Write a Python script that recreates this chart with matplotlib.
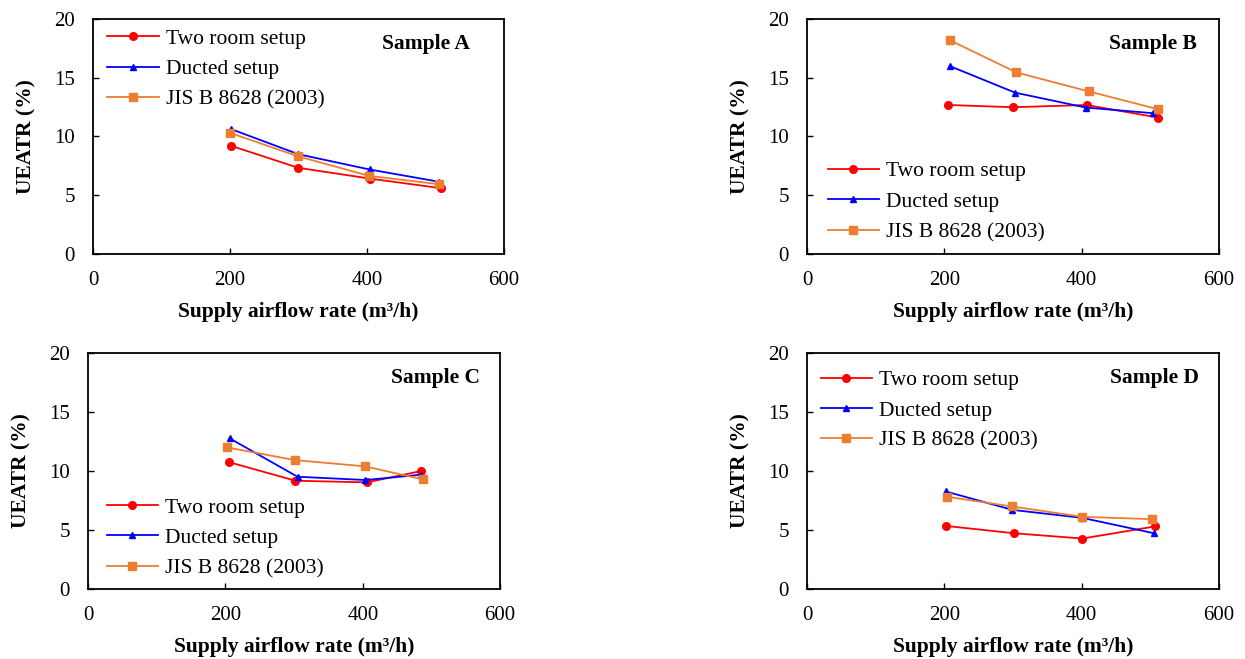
import matplotlib
matplotlib.use("Agg")
import matplotlib.pyplot as plt

plt.rcParams['font.family'] = ['Liberation Serif', 'DejaVu Serif']

series_names = ["Two room setup", "Ducted setup", "JIS B 8628 (2003)"]
series_colors = ["#FF0000", "#0000FF", "#ED7D31"]
series_markers = ["o", "^", "s"]

# Sample A
a_two_x = [202, 300, 404, 508]
a_two_y = [9.2, 7.33, 6.42, 5.6]
a_duct_x = [202, 300, 404, 506]
a_duct_y = [10.62, 8.49, 7.19, 6.14]
a_jis_x = [200, 299, 403, 505]
a_jis_y = [10.31, 8.32, 6.65, 5.94]

# Sample B
b_two_x = [206, 300, 407, 511]
b_two_y = [12.68, 12.49, 12.68, 11.61]
b_duct_x = [208, 303, 406, 504]
b_duct_y = [15.99, 13.73, 12.46, 11.98]
b_jis_x = [208, 305, 410, 511]
b_jis_y = [18.19, 15.45, 13.84, 12.32]

# Sample C
c_two_x = [205, 302, 406, 485]
c_two_y = [10.76, 9.18, 9.04, 10.0]
c_duct_x = [206, 305, 404, 485]
c_duct_y = [12.78, 9.52, 9.24, 9.69]
c_jis_x = [202, 301, 403, 488]
c_jis_y = [12.01, 10.93, 10.4, 9.29]

# Sample D
d_two_x = [202, 301, 401, 506]
d_two_y = [5.35, 4.73, 4.28, 5.30]
d_duct_x = [202, 299, 401, 505]
d_duct_y = [8.27, 6.71, 6.03, 4.73]
d_jis_x = [204, 298, 401, 503]
d_jis_y = [7.82, 7.0, 6.12, 5.92]

# title, data, axes rect, legend anchor, legend loc, title x
panels = [
    ("Sample A", [(a_two_x, a_two_y), (a_duct_x, a_duct_y), (a_jis_x, a_jis_y)],
     [0.0747, 0.6146, 0.330, 0.3566], (0.035, 0.958), "upper left", 0.917),
    ("Sample B", [(b_two_x, b_two_y), (b_duct_x, b_duct_y), (b_jis_x, b_jis_y)],
     [0.6482, 0.6146, 0.331, 0.3566], (0.05, 0.05), "lower left", 0.947),
    ("Sample C", [(c_two_x, c_two_y), (c_duct_x, c_duct_y), (c_jis_x, c_jis_y)],
     [0.0707, 0.1062, 0.331, 0.358], (0.045, 0.045), "lower left", 0.95),
    ("Sample D", [(d_two_x, d_two_y), (d_duct_x, d_duct_y), (d_jis_x, d_jis_y)],
     [0.6482, 0.1062, 0.331, 0.358], (0.033, 0.928), "upper left", 0.95),
]

fig = plt.figure(figsize=(12.45, 6.59), dpi=100)

for title, data, pos, anchor, loc, tx in panels:
    ax = fig.add_axes(pos)
    for (xs, ys), name, col, mk in zip(data, series_names, series_colors, series_markers):
        ms = 5 if mk == "^" else 5.5
        ax.plot(xs, ys, color=col, marker=mk, markersize=ms, linewidth=1.3, label=name)
    ax.set_xlim(0, 600)
    ax.set_ylim(0, 20)
    ax.set_xticks([0, 200, 400, 600])
    ax.set_yticks([0, 5, 10, 15, 20])
    ax.tick_params(direction="in", length=4, width=1, labelsize=15)
    ax.tick_params(axis="x", pad=12)
    ax.tick_params(axis="y", pad=13)
    for sp in ax.spines.values():
        sp.set_linewidth(1.3)
    ax.set_xlabel("Supply airflow rate (m³/h)", fontsize=15.5, fontweight="bold", labelpad=9)
    ax.set_ylabel("UEATR (%)", fontsize=15.5, fontweight="bold", labelpad=13)
    ax.text(tx, 0.895, title, transform=ax.transAxes, ha="right", va="center",
            fontsize=15.5, fontweight="bold")
    ax.legend(loc=loc, bbox_to_anchor=anchor, frameon=False, fontsize=15.5,
              handlelength=2.4, labelspacing=0.48, handletextpad=0.3,
              borderaxespad=0, borderpad=0)

fig.savefig("out.png", dpi=100)
